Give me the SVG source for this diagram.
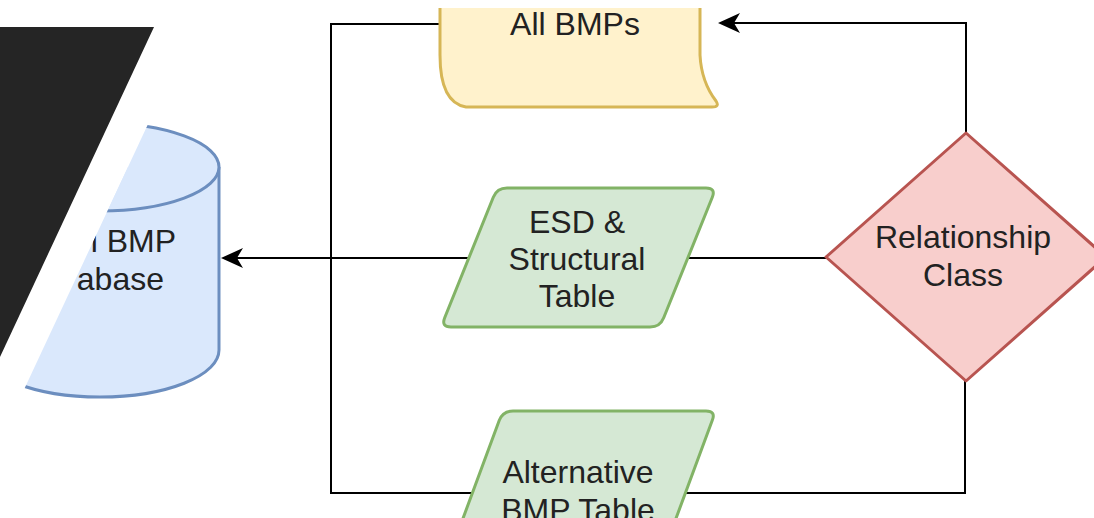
<svg xmlns="http://www.w3.org/2000/svg" width="1094" height="518" viewBox="0 0 1094 518">
  <style>
    .lbl { font-family: "Liberation Sans", Arial, sans-serif; font-size: 32px; fill: #222; text-anchor: middle; }
    .lbl-end { font-family: "Liberation Sans", Arial, sans-serif; font-size: 32px; fill: #222; text-anchor: end; }
    .edge { fill: none; stroke: #000; stroke-width: 2; }
    .store { fill: #dae8fc; stroke: #6c8ebf; stroke-width: 3; }
    .doc { fill: #fff2cc; }
    .doc-line { fill: none; stroke: #d6b656; stroke-width: 3; stroke-linejoin: round; }
    .data { fill: #d5e8d4; stroke: #82b366; stroke-width: 3; stroke-linejoin: round; }
    .decision { fill: #f8cecc; stroke: #b85450; stroke-width: 3; stroke-linejoin: round; }
  </style>
  <defs>
    <marker id="arrow" markerUnits="userSpaceOnUse" markerWidth="22" markerHeight="20" refX="6" refY="10" orient="auto" overflow="visible">
      <path d="M0,0 L22,10 L0,20 L6,10 Z" fill="#000"/>
    </marker>
    <!-- keeps the cylinder to the right of the diagonal cut -->
    <clipPath id="cut">
      <polygon points="206,0 1094,0 1094,518 -36,518"/>
    </clipPath>
  </defs>

  <rect width="1094" height="518" fill="#fff"/>

  <!-- connectors -->
  <g id="connectors">
    <path class="edge" d="M966,133 V23 H734" marker-end="url(#arrow)"/>
    <path class="edge" d="M440,24 H331 V493 H965 V381"/>
    <path class="edge" d="M826,258 H237" marker-end="url(#arrow)"/>
  </g>

  <!-- data store cylinder -->
  <g id="bmp-database" clip-path="url(#cut)">
    <path class="store" d="M-19,167 A119,44 0 0 1 219,167 L219,350 A119,47 0 0 1 -19,350 Z"/>
    <path class="store" fill="none" d="M-19,167 A119,44 0 0 0 219,167"/>
    <text class="lbl-end" x="176" y="252">l BMP</text>
    <text class="lbl-end" x="164" y="290">abase</text>
  </g>

  <!-- diagonal band -->
  <polygon id="band" points="0,27 154,27 0,357" fill="#252525"/>

  <!-- document shape -->
  <g id="all-bmps">
    <path class="doc" d="M440,8 L440,55 C440,86 448,104 466,107 L712,107 Q720,107 716,101 C706,88 701,74 700,55 L700,8 Z"/>
    <path class="doc-line" d="M440,8 L440,55 C440,86 448,104 466,107 L712,107 Q720,107 716,101 C706,88 701,74 700,55 L700,8"/>
    <text class="lbl" x="575" y="35">All BMPs</text>
  </g>

  <!-- data table -->
  <g id="esd-structural-table">
    <path class="data" d="M507,188 H706 Q716,188 712.3,197.3 L663.7,317.7 Q660,327 650,327 H451 Q441,327 444.7,317.7 L493.3,197.3 Q497,188 507,188 Z"/>
    <text class="lbl" x="577" y="233">ESD &amp;</text>
    <text class="lbl" x="577" y="270">Structural</text>
    <text class="lbl" x="577" y="307">Table</text>
  </g>

  <!-- alternative table -->
  <g id="alternative-bmp-table">
    <path class="data" d="M513,411 H706 Q716,411 712.3,420.3 L668,540 H455 L499.3,420.3 Q503,411 513,411 Z"/>
    <text class="lbl" x="578" y="483">Alternative</text>
    <text class="lbl" x="578" y="521">BMP Table</text>
  </g>

  <!-- decision -->
  <g id="relationship-class">
    <polygon class="decision" points="966,133 1106,257 966,381 826,257"/>
    <text class="lbl" x="963" y="248">Relationship</text>
    <text class="lbl" x="963" y="286">Class</text>
  </g>
</svg>
